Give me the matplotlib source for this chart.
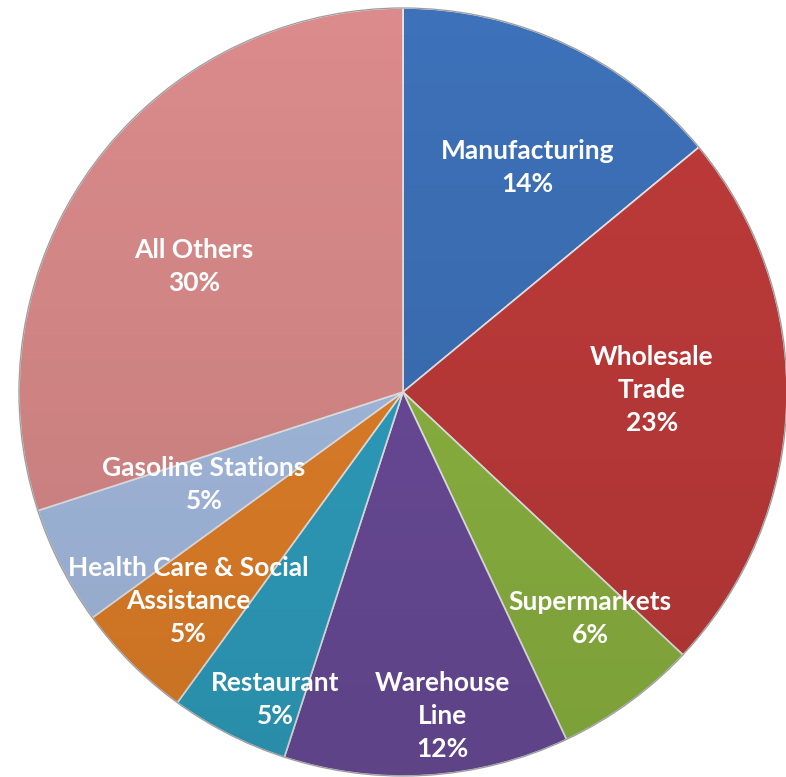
import numpy as np
import matplotlib
matplotlib.use('Agg')
from matplotlib import pyplot as plt
from matplotlib.patches import Circle

categories = ['Manufacturing', 'Wholesale\nTrade', 'Supermarkets', 'Warehouse\nLine',
              'Restaurant', 'Health Care & Social\nAssistance', 'Gasoline Stations', 'All Others']
shares = [14, 23, 6, 12, 5, 5, 5, 30]
colors = ['#3d71b9', '#bf3b3a', '#8db541', '#6b4c9a', '#2fa0c0', '#e38129', '#a6bde2', '#db8b8b']

# label placement: fraction of radius, and nudge (deg) from the wedge middle
label_r = [0.667, 0.648, 0.766, 0.85, 0.866, 0.781, 0.572, 0.634]
label_nudge = [-3.8, 2.3, 3.5, 3.3, 4.4, -0.8, -2.0, 5.1]


def main(w=786, h=777, cx=403, cy=392, rad=384):
    fig = plt.figure(figsize=(w / 100, h / 100), dpi=100)
    ax = fig.add_axes([0, 0, 1, 1])
    ax.axis('off')

    wedges, _ = ax.pie(shares, colors=colors, startangle=90, counterclock=False,
                       radius=1, center=(0, 0),
                       wedgeprops=dict(edgecolor='#e8e8e8', linewidth=1.2))

    # soft top-to-bottom shading like the office bevel look
    grad = np.linspace(0, 1, 256)[:, None] * np.ones((1, 2))
    shade = np.zeros((256, 2, 4))
    shade[..., 3] = 0.12 * grad[:, :]
    img = ax.imshow(shade, extent=(-1, 1, -1, 1), origin='upper', zorder=3)
    img.set_clip_path(Circle((0, 0), 1, transform=ax.transData))
    ring = Circle((0, 0), 1, fill=False, ec='#9a9a9a', lw=0.8, zorder=4)
    ax.add_patch(ring)

    for wdg, name, pct, r, nd in zip(wedges, categories, shares, label_r, label_nudge):
        mid = np.deg2rad((wdg.theta1 + wdg.theta2) / 2 + nd)
        ax.text(r * np.cos(mid), r * np.sin(mid), f'{name}\n{pct}%',
                ha='center', va='center', color='white', fontsize=19,
                fontweight='bold', family=['Lato', 'DejaVu Sans'],
                linespacing=1.45, zorder=5)

    ax.set_xlim(-cx / rad, (w - cx) / rad)
    ax.set_ylim(-(h - cy) / rad, cy / rad)
    ax.set_aspect('equal')
    fig.savefig('out.png', dpi=100)


if __name__ == '__main__':
    main()
